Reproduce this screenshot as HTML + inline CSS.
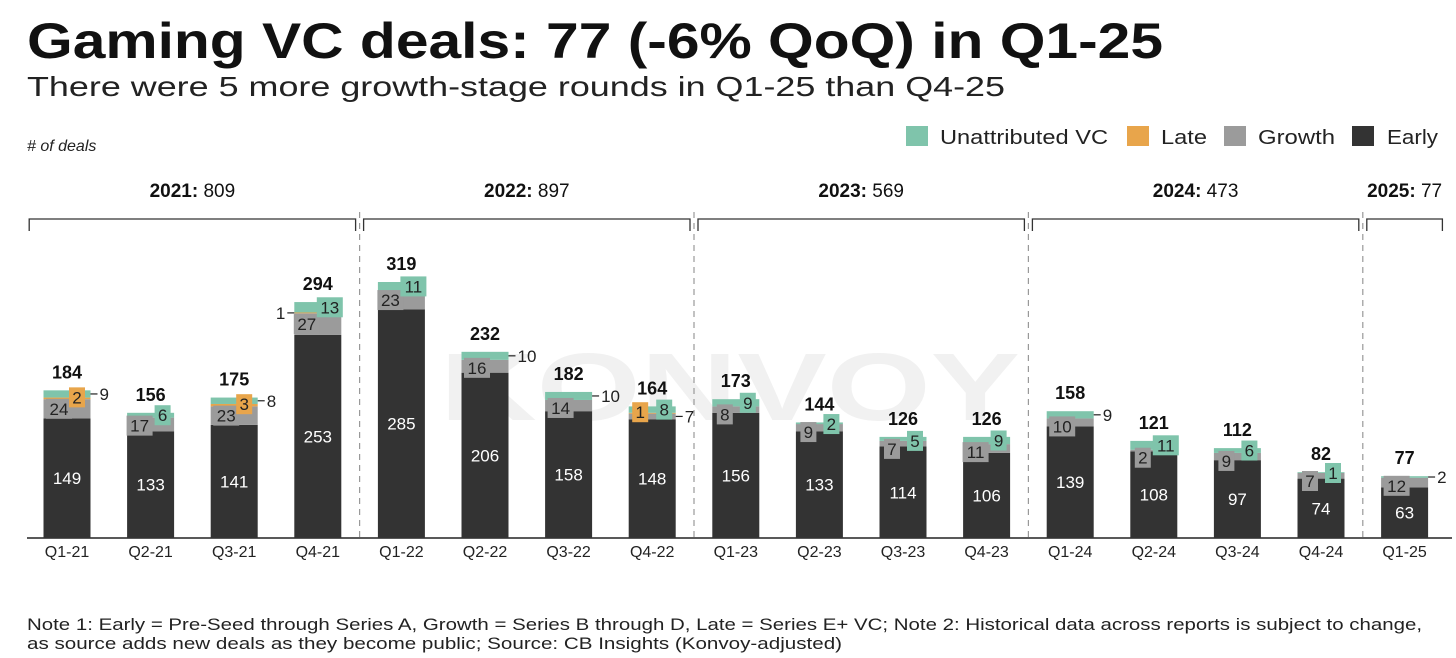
<!DOCTYPE html>
<html><head><meta charset="utf-8"><style>
html,body{margin:0;padding:0;background:#fff;}
svg{display:block;font-family:"Liberation Sans",sans-serif;}
</style></head><body>
<svg id="chart" width="1456" height="658" viewBox="0 0 1456 658">
<text x="27" y="58" font-size="50" font-weight="bold" fill="#111" textLength="1136" lengthAdjust="spacingAndGlyphs">Gaming VC deals: 77 (-6% QoQ) in Q1-25</text>
<text x="27" y="96" font-size="28" fill="#222" textLength="978" lengthAdjust="spacingAndGlyphs">There were 5 more growth-stage rounds in Q1-25 than Q4-25</text>
<text x="27" y="151" font-size="16" font-style="italic" fill="#222"># of deals</text>
<text x="440" y="420" font-size="96" font-weight="bold" fill="#f1f1f1" textLength="580" lengthAdjust="spacingAndGlyphs">KONVOY</text>
<g>
<rect x="906" y="126" width="22" height="20" fill="#7fc4ab"/>
<text x="940" y="144" font-size="20" fill="#222" textLength="168" lengthAdjust="spacingAndGlyphs">Unattributed VC</text>
<rect x="1127" y="126" width="22" height="20" fill="#e8a54b"/>
<text x="1161" y="144" font-size="20" fill="#222" textLength="46" lengthAdjust="spacingAndGlyphs">Late</text>
<rect x="1224" y="126" width="22" height="20" fill="#9b9b9b"/>
<text x="1258" y="144" font-size="20" fill="#222" textLength="77" lengthAdjust="spacingAndGlyphs">Growth</text>
<rect x="1352" y="126" width="22" height="20" fill="#333333"/>
<text x="1387" y="144" font-size="20" fill="#222" textLength="51" lengthAdjust="spacingAndGlyphs">Early</text>
</g>
<g id="plot"></g>
<text x="27" y="630" font-size="16.5" fill="#222" textLength="1395" lengthAdjust="spacingAndGlyphs">Note 1: Early = Pre-Seed through Series A, Growth = Series B through D, Late = Series E+ VC; Note 2: Historical data across reports is subject to change,</text>
<text x="27" y="649" font-size="16.5" fill="#222" textLength="815" lengthAdjust="spacingAndGlyphs">as source adds new deals as they become public; Source: CB Insights (Konvoy-adjusted)</text>
</svg>
<script>
const categories=["Q1-21","Q2-21","Q3-21","Q4-21","Q1-22","Q2-22","Q3-22","Q4-22","Q1-23","Q2-23","Q3-23","Q4-23","Q1-24","Q2-24","Q3-24","Q4-24","Q1-25"];
const early=[149,133,141,253,285,206,158,148,156,133,114,106,139,108,97,74,63];
const growth=[24,17,23,27,23,16,14,7,8,9,7,11,10,2,9,7,12];
const late=[2,0,3,1,0,0,0,1,0,0,0,0,0,0,0,0,0];
const unattributed=[9,6,8,13,11,10,10,8,9,2,5,9,9,11,6,1,2];
const years=["2021","2022","2023","2024","2025"];
const yearTotals=[809,897,569,473,77];
const yearSizes=[4,4,4,4,1];
const outsideLabel={0:'u',2:'u',3:'l',5:'u',6:'u',7:'g',12:'u',16:'u'};

const NS="http://www.w3.org/2000/svg";
const plot=document.getElementById('plot');
const baseY=538, pxPer=0.8025, x0=67, step=83.6, bw=47;
const xc=i=>x0+i*step;
const y=v=>baseY-v*pxPer;
function mk(tag,attrs,parent){const e=document.createElementNS(NS,tag);for(const k in attrs)e.setAttribute(k,attrs[k]);(parent||plot).appendChild(e);return e;}
function txt(s,attrs,parent){const e=mk('text',attrs,parent);e.textContent=s;return e;}

const ax=mk('line',{x1:27,x2:1452,y1:baseY,y2:baseY,stroke:'#222','stroke-width':1.5});



let start=0;
years.forEach((yr,g)=>{
  const n=yearSizes[g];
  const left=xc(start)-step/2+4, right=xc(start+n-1)+step/2-4;
  const gEl=mk('g',{});
  
  
  mk('path',{d:`M${left} 231 V219 H${right} V231`,fill:'none',stroke:'#333','stroke-width':1.3},gEl);
  const t=txt('',{x:(left+right)/2,y:197,'font-size':19,'text-anchor':'middle',fill:'#111'},gEl);
  const b=document.createElementNS(NS,'tspan');b.setAttribute('font-weight','bold');b.textContent=yr+':';t.appendChild(b);
  const r=document.createElementNS(NS,'tspan');r.textContent=' '+yearTotals[g];t.appendChild(r);
  if(g<years.length-1){
    const dx=xc(start+n-1)+step/2;
    const d=mk('line',{x1:dx,x2:dx,y1:212,y2:baseY,stroke:'#999','stroke-width':1.2,'stroke-dasharray':'6,5'});
    
    
  }
  start+=n;
});

const colors={e:'#333333',g:'#9b9b9b',l:'#e8a54b',u:'#7fc4ab'};
categories.forEach((c,i)=>{
  const g=mk('g',{});
  
  
  const cx=xc(i), l=cx-bw/2;
  const vals=[['e',early[i]],['g',growth[i]],['l',late[i]],['u',unattributed[i]]];
  let cum=0; const segs={};
  vals.forEach(([k,v])=>{
    if(v>0){const r=mk('rect',{x:l,y:y(cum+v),width:bw,height:v*pxPer,fill:colors[k]},g);
      
      }
    segs[k]={mid:y(cum+v/2),top:y(cum+v),v:v};cum+=v;
  });
  const total=cum;
  txt(String(early[i]),{x:cx,y:segs.e.mid+6,'font-size':17,'text-anchor':'middle',fill:'#fff'},g);
  const out=outsideLabel[i];
  const box=(k,bx,by)=>{
    const s=String(segs[k].v), w=s.length*10+6;
    mk('rect',{x:bx-w/2,y:by-10,width:w,height:20,fill:colors[k]},g);
    txt(s,{x:bx,y:by+6,'font-size':17,'text-anchor':'middle',fill:'#222'},g);
  };
  const outside=(k,side)=>{
    const s=String(segs[k].v), yy=segs[k].mid;
    if(side>0){mk('line',{x1:cx+bw/2,x2:cx+bw/2+7,y1:yy,y2:yy,stroke:'#222','stroke-width':1.2},g);
      txt(s,{x:cx+bw/2+9,y:yy+6,'font-size':17,fill:'#222'},g);}
    else{mk('line',{x1:l-7,x2:l,y1:yy,y2:yy,stroke:'#222','stroke-width':1.2},g);
      txt(s,{x:l-9,y:yy+6,'font-size':17,'text-anchor':'end',fill:'#222'},g);}
  };
  if(segs.g.v>0){ if(out==='g') outside('g',1); else box('g',segs.u.v>0&&out!=='u'?cx-11:cx-8,Math.max(segs.g.mid,segs.g.top+8)); }
  if(segs.l.v>0){ if(out==='l') outside('l',-1); else box('l',out==='u'?cx+10:cx-12,segs.l.mid-1); }
  if(segs.u.v>0){ if(out==='u') outside('u',1); else box('u',segs.g.v>0?cx+12:cx,Math.min(segs.u.mid+(segs.u.v<6?4:0),segs.g.top)); }
  txt(String(total),{x:cx,y:y(total)-12,'font-size':18,'font-weight':'bold','text-anchor':'middle',fill:'#111'},g);
  const cl=txt(c,{x:cx,y:557,'font-size':16,'text-anchor':'middle',fill:'#222'},plot);
  
  
});
</script>
</body></html>
